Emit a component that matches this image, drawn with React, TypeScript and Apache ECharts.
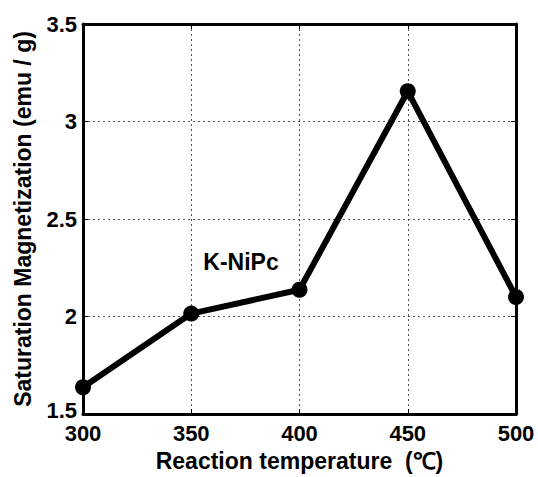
import React, { useEffect, useRef } from "react";
import * as echarts from "echarts";

const temperatures = [300, 350, 400, 450, 500];
const magnetization = [1.637, 2.015, 2.137, 3.155, 2.1];
const sampleLabel = "K-NiPc";
const labelAt = [373, 2.28];
const xTitle = "Reaction temperature  (℃)";
const yTitle = "Saturation Magnetization (emu / g)";

const FONT = '"Liberation Sans", Arial, sans-serif';

export default function App() {
  const ref = useRef<HTMLDivElement>(null);
  useEffect(() => {
    if (!ref.current) return;
    const chart = echarts.init(ref.current, undefined, { renderer: "svg" });
    const splitLine = { show: true, lineStyle: { color: "#555", width: 1, type: [2, 3] as any } };
    const tick = { show: true, inside: true, length: 5, lineStyle: { color: "#000", width: 1 } };
    const axLine = { show: true, lineStyle: { color: "#000", width: 3 } };
    const lblStyle = { color: "#000", fontSize: 22, lineHeight: 18, fontWeight: "bold", fontFamily: FONT };
    chart.setOption({
      animation: false,
      backgroundColor: "#fff",
      textStyle: { fontFamily: FONT },
      grid: { left: 83, right: 22, top: 24, bottom: 60, containLabel: false },
      xAxis: [
        {
          type: "value",
          min: 300,
          max: 500,
          interval: 50,
          position: "bottom",
          axisLine: axLine,
          axisTick: tick,
          splitLine,
          axisLabel: { ...lblStyle, margin: 10 },
          name: xTitle,
          nameLocation: "middle",
          nameGap: 35,
          nameTextStyle: { color: "#000", fontSize: 23, fontWeight: "bold", fontFamily: FONT },
        },
        {
          type: "value",
          min: 300,
          max: 500,
          interval: 50,
          position: "top",
          axisLine: axLine,
          axisTick: tick,
          splitLine: { show: false },
          axisLabel: { show: false },
        },
      ],
      yAxis: [
        {
          type: "value",
          min: 1.5,
          max: 3.5,
          interval: 0.5,
          position: "left",
          axisLine: axLine,
          axisTick: tick,
          splitLine,
          axisLabel: {
            ...lblStyle,
            margin: 6,
            formatter: (v: number) => (v === 1.5 ? "{low|" + v + "}" : String(v)),
            rich: { low: { ...lblStyle, padding: [0, 0, 8, 0] } },
          },
          name: yTitle,
          nameLocation: "middle",
          nameGap: 49,
          nameTextStyle: { color: "#000", fontSize: 23, fontWeight: "bold", fontFamily: FONT },
        },
        {
          type: "value",
          min: 1.5,
          max: 3.5,
          interval: 0.5,
          position: "right",
          axisLine: axLine,
          axisTick: tick,
          splitLine: { show: false },
          axisLabel: { show: false },
        },
      ],
      series: [
        {
          type: "line",
          data: temperatures.map((t, i) => [t, magnetization[i]]),
          symbol: "circle",
          symbolSize: 16,
          showSymbol: true,
          lineStyle: { color: "#000", width: 6 },
          itemStyle: { color: "#000" },
          z: 5,
          markPoint: {
            symbol: "circle",
            symbolSize: 0,
            data: [
              {
                coord: labelAt,
                label: {
                  show: true,
                  formatter: sampleLabel,
                  color: "#000",
                  fontSize: 23,
                  fontWeight: "bold",
                  fontFamily: FONT,
                  position: "inside",
                },
              },
            ],
          },
        },
      ],
    });
    return () => chart.dispose();
  }, []);
  return <div ref={ref} style={{ width: 538, height: 477, position: "fixed", left: 0, top: 0 }} />;
}
